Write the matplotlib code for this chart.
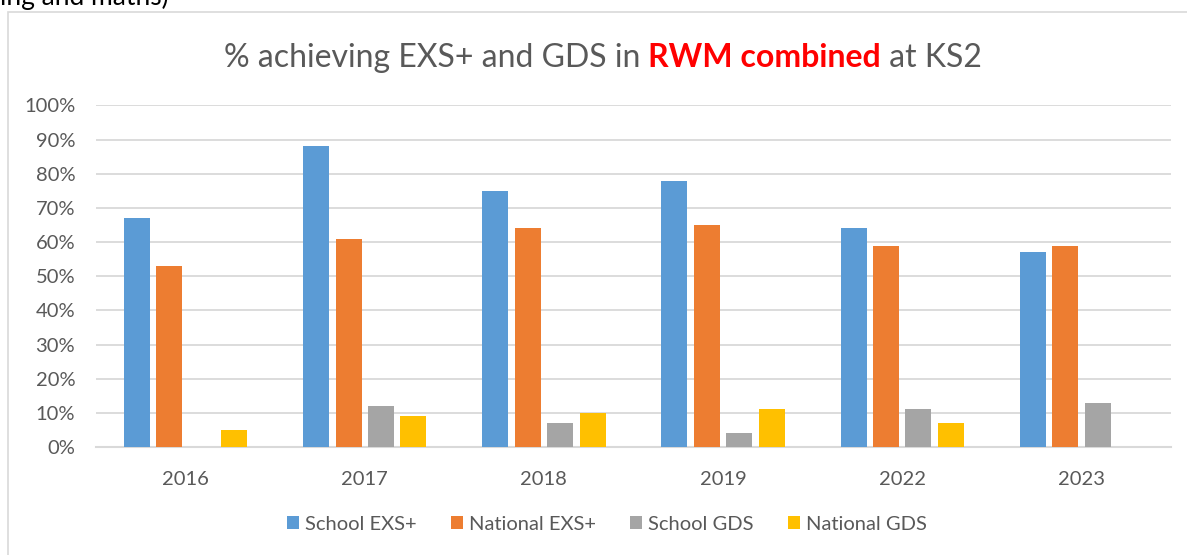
import matplotlib.pyplot as plt
import numpy as np
from matplotlib.patches import Rectangle
from matplotlib.ticker import PercentFormatter

plt.rcParams['font.family'] = ['Lato', 'DejaVu Sans']

years = ['2016', '2017', '2018', '2019', '2022', '2023']
school_exs = [67, 88, 75, 78, 64, 57]
national_exs = [53, 61, 64, 65, 59, 59]
school_gds = [0, 12, 7, 4, 11, 13]
national_gds = [5, 9, 10, 11, 7, 0]

series = [
    ('School EXS+', school_exs, '#5B9BD5'),
    ('National EXS+', national_exs, '#ED7D31'),
    ('School GDS', school_gds, '#A5A5A5'),
    ('National GDS', national_gds, '#FFC000'),
]

W, H = 1187, 555
fig = plt.figure(figsize=(W/100, H/100), dpi=100)
ax = fig.add_axes([96/W, 1-447/H, (1171-96)/W, (447-105.5)/H])

txtcol = '#595959'
grid = '#D9D9D9'

x = np.arange(len(years))
step = 0.181
bw = 0.145
for i, (name, vals, col) in enumerate(series):
    ax.bar(x + (i-1.5)*step, vals, bw, color=col, label=name, linewidth=0, zorder=3)

ax.set_xlim(-0.5, len(years)-0.5)
ax.set_ylim(0, 100)
ax.set_yticks(np.arange(0, 101, 10))
ax.yaxis.set_major_formatter(PercentFormatter(decimals=0))
ax.set_xticks(x)
ax.set_xticklabels(years)
ax.tick_params(axis='both', length=0, labelsize=14.5, labelcolor=txtcol)
ax.tick_params(axis='x', pad=17)
ax.tick_params(axis='y', pad=15)
ax.grid(axis='y', color=grid, linewidth=1.3, zorder=0)
for s in ['top', 'right', 'left']:
    ax.spines[s].set_visible(False)
ax.spines['bottom'].set_color(grid)
ax.spines['bottom'].set_linewidth(1.5)

ax.legend(loc='center', bbox_to_anchor=(607/W, 1-524/H), bbox_transform=fig.transFigure,
          ncol=4, frameon=False, fontsize=14.5, labelcolor=txtcol,
          handlelength=0.6, handleheight=0.6, handletextpad=0.3, columnspacing=1.7)

# chart border (continues past the right and bottom edges)
fig.patches.append(Rectangle((8/W, -0.1), 1.2, 1-12/H+0.1, transform=fig.transFigure,
                             fill=False, edgecolor=grid, linewidth=1.2))

# cut-off caption above the chart
fig.text(0, 1-5/H, 'ing and maths)', fontsize=19, color='black', va='baseline', ha='left')

# title with coloured bold part
parts = [('% achieving EXS+ and GDS in ', txtcol, 'normal'),
         ('RWM combined', '#FF0000', 'bold'),
         (' at KS2', txtcol, 'normal')]
texts = [fig.text(0, 1-67/H, p, fontsize=23, color=c, fontweight=fw, va='baseline')
         for p, c, fw in parts]
fig.canvas.draw()
r = fig.canvas.get_renderer()
widths = [t.get_window_extent(r).width for t in texts]
x0 = 603 - sum(widths)/2
for t, w in zip(texts, widths):
    t.set_x(x0/W)
    x0 += w

fig.savefig('out.png', dpi=100)
